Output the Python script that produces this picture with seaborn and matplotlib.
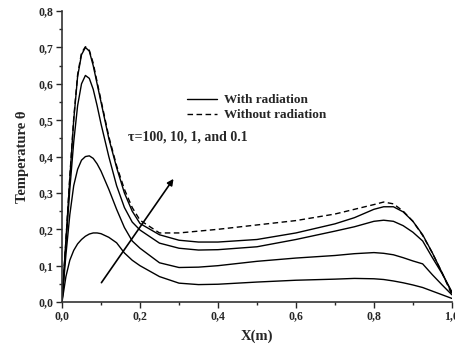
import numpy as np
import pandas as pd
import seaborn as sns
import matplotlib
matplotlib.use("Agg")
import matplotlib.pyplot as plt
from matplotlib.ticker import MultipleLocator, FuncFormatter

# position along the channel (m)
x_pos = [0.0, 0.01, 0.02, 0.03, 0.04, 0.05, 0.06, 0.07, 0.08, 0.09, 0.10,
         0.12, 0.14, 0.16, 0.18, 0.20, 0.25, 0.30, 0.35, 0.40, 0.50, 0.60,
         0.70, 0.75, 0.80, 0.825, 0.85, 0.875, 0.90, 0.925, 0.95, 0.975, 1.0]

# temperature with radiation, tau = 100, 10, 1, 0.1
theta_tau100 = [0.0, 0.17, 0.34, 0.50, 0.62, 0.68, 0.70, 0.69, 0.65, 0.60, 0.55,
                0.45, 0.37, 0.30, 0.25, 0.216, 0.185, 0.170, 0.165, 0.165, 0.172, 0.19,
                0.215, 0.232, 0.255, 0.262, 0.262, 0.248, 0.222, 0.185, 0.135, 0.08, 0.025]
theta_tau10 = [0.0, 0.16, 0.31, 0.44, 0.54, 0.60, 0.623, 0.615, 0.585, 0.54, 0.49,
               0.40, 0.32, 0.26, 0.22, 0.198, 0.162, 0.148, 0.143, 0.144, 0.152, 0.172,
               0.195, 0.207, 0.222, 0.225, 0.222, 0.21, 0.192, 0.168, 0.122, 0.078, 0.028]
theta_tau1 = [0.0, 0.13, 0.24, 0.32, 0.365, 0.39, 0.40, 0.402, 0.395, 0.38, 0.36,
              0.31, 0.255, 0.205, 0.168, 0.148, 0.108, 0.095, 0.096, 0.10, 0.112, 0.121,
              0.128, 0.133, 0.136, 0.134, 0.13, 0.122, 0.113, 0.105, 0.075, 0.047, 0.02]
theta_tau01 = [0.0, 0.07, 0.115, 0.142, 0.16, 0.172, 0.181, 0.187, 0.19, 0.19, 0.188,
               0.178, 0.163, 0.135, 0.115, 0.10, 0.07, 0.052, 0.048, 0.049, 0.055, 0.06,
               0.063, 0.065, 0.064, 0.062, 0.058, 0.053, 0.047, 0.04, 0.03, 0.02, 0.01]
# temperature without radiation
theta_norad = [0.0, 0.17, 0.345, 0.505, 0.625, 0.685, 0.702, 0.692, 0.657, 0.605, 0.555,
               0.455, 0.375, 0.31, 0.26, 0.225, 0.19, 0.19, 0.195, 0.20, 0.212, 0.224,
               0.242, 0.255, 0.268, 0.275, 0.27, 0.25, 0.222, 0.183, 0.135, 0.08, 0.02]

y_ticks = [0.0, 0.1, 0.2, 0.3, 0.4, 0.5, 0.6, 0.7, 0.8]
x_ticks = [0.0, 0.2, 0.4, 0.6, 0.8, 1.0]

sns.set_style("ticks")
plt.rcParams["font.family"] = ["Liberation Serif", "DejaVu Serif"]
plt.rcParams["font.weight"] = "bold"

fig = plt.figure(figsize=(4.56, 3.46), dpi=100)
ax = fig.add_axes([0.136, 0.127, 0.855, 0.841])

for i, th in enumerate([theta_tau100, theta_tau10, theta_tau1, theta_tau01]):
    sns.lineplot(x=x_pos, y=th, ax=ax, color="black", linewidth=1.0,
                 label="With radiation" if i == 0 else None)
sns.lineplot(x=x_pos, y=theta_norad, ax=ax, color="black", linewidth=1.0,
             linestyle=(0, (4, 2.5)), label="Without radiation")

ax.set_xlim(0, 1.0)
ax.set_ylim(0, 0.8)
ax.set_xticks(x_ticks)
ax.set_yticks(y_ticks)
ax.xaxis.set_minor_locator(MultipleLocator(0.1))
ax.yaxis.set_minor_locator(MultipleLocator(0.05))
fmt = FuncFormatter(lambda v, p: f"{v:.1f}".replace(".", ","))
ax.xaxis.set_major_formatter(fmt)
ax.yaxis.set_major_formatter(fmt)
ax.tick_params(which="major", length=4, width=1, labelsize=8.5, direction="out", pad=2)
ax.tick_params(which="minor", length=2.5, width=1, direction="out")
for lab in ax.get_xticklabels() + ax.get_yticklabels():
    lab.set_fontweight("bold")

sns.despine(ax=ax)
for s in ["left", "bottom"]:
    ax.spines[s].set_linewidth(1.2)
    ax.spines[s].set_color("#333333")

ax.set_xlabel("X(m)", fontsize=10.5, fontweight="bold", labelpad=5)
ax.set_ylabel("Temperature θ", fontsize=10.5, fontweight="bold", labelpad=7)

ax.annotate("", xy=(0.29, 0.345), xytext=(0.097, 0.047),
            arrowprops=dict(arrowstyle="-|>", color="black", lw=1.2,
                            mutation_scale=9))
ax.text(0.168, 0.455, "τ=100, 10, 1, and 0.1", fontsize=10, fontweight="bold",
        va="center", ha="left")

ax.legend(loc="upper left", bbox_to_anchor=(0.29, 0.755), frameon=False,
          handlelength=2.3, handletextpad=0.5, labelspacing=0.2,
          prop={"weight": "bold", "size": 9.5})

fig.savefig("out.png", dpi=100)
